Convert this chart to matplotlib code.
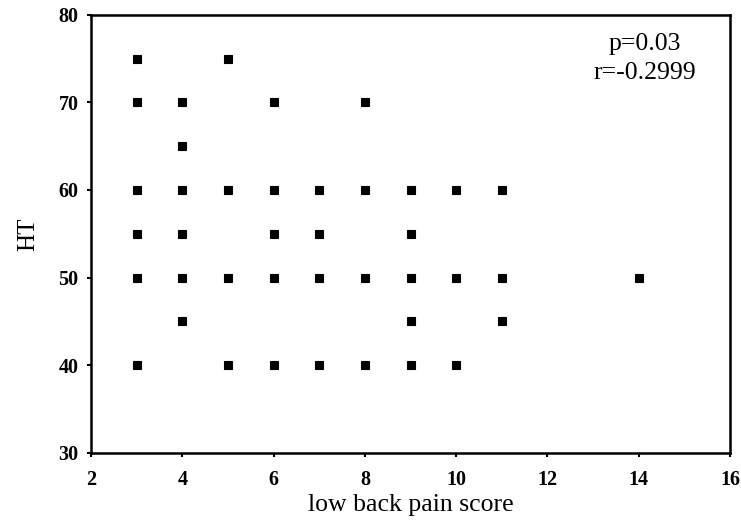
import matplotlib.pyplot as plt

# low back pain score vs HT
score = [3, 5,
         3, 4, 6, 8,
         4,
         3, 4, 5, 6, 7, 8, 9, 10, 11,
         3, 4, 6, 7, 9,
         3, 4, 5, 6, 7, 8, 9, 10, 11, 14,
         4, 9, 11,
         3, 5, 6, 7, 8, 9, 10]
ht = [75, 75,
      70, 70, 70, 70,
      65,
      60, 60, 60, 60, 60, 60, 60, 60, 60,
      55, 55, 55, 55, 55,
      50, 50, 50, 50, 50, 50, 50, 50, 50, 50,
      45, 45, 45,
      40, 40, 40, 40, 40, 40, 40]

xticks = [2, 4, 6, 8, 10, 12, 14, 16]
yticks = [30, 40, 50, 60, 70, 80]

plt.rcParams['font.family'] = ['Liberation Serif', 'DejaVu Serif']

fig = plt.figure(figsize=(7.41, 5.26), dpi=100)
ax = fig.add_axes([0.123, 0.139, 0.862, 0.833])
ax.plot(score, ht, 's', color='black', markersize=5.8, markeredgewidth=0.8)

ax.set_xlim(2, 16)
ax.set_ylim(30, 80)
ax.set_xticks(xticks)
ax.set_yticks(yticks)
ax.set_xticklabels([str(v) for v in xticks], fontweight='bold', fontsize=14.5)
ax.set_yticklabels([str(v) for v in yticks], fontweight='bold', fontsize=14.5)
ax.tick_params(direction='out', length=3, width=1.5)
ax.tick_params(axis='x', pad=9)
ax.tick_params(axis='y', pad=6)
for s in ax.spines.values():
    s.set_linewidth(1.8)

ax.set_xlabel('low back pain score', fontsize=18.5, labelpad=3)
ax.set_ylabel('HT', fontsize=18, labelpad=14)
ax.text(0.867, 0.900, 'p=0.03\nr=-0.2999', transform=ax.transAxes,
        ha='center', va='center', fontsize=18.5, linespacing=1.4)

fig.savefig('out.png', dpi=100)
